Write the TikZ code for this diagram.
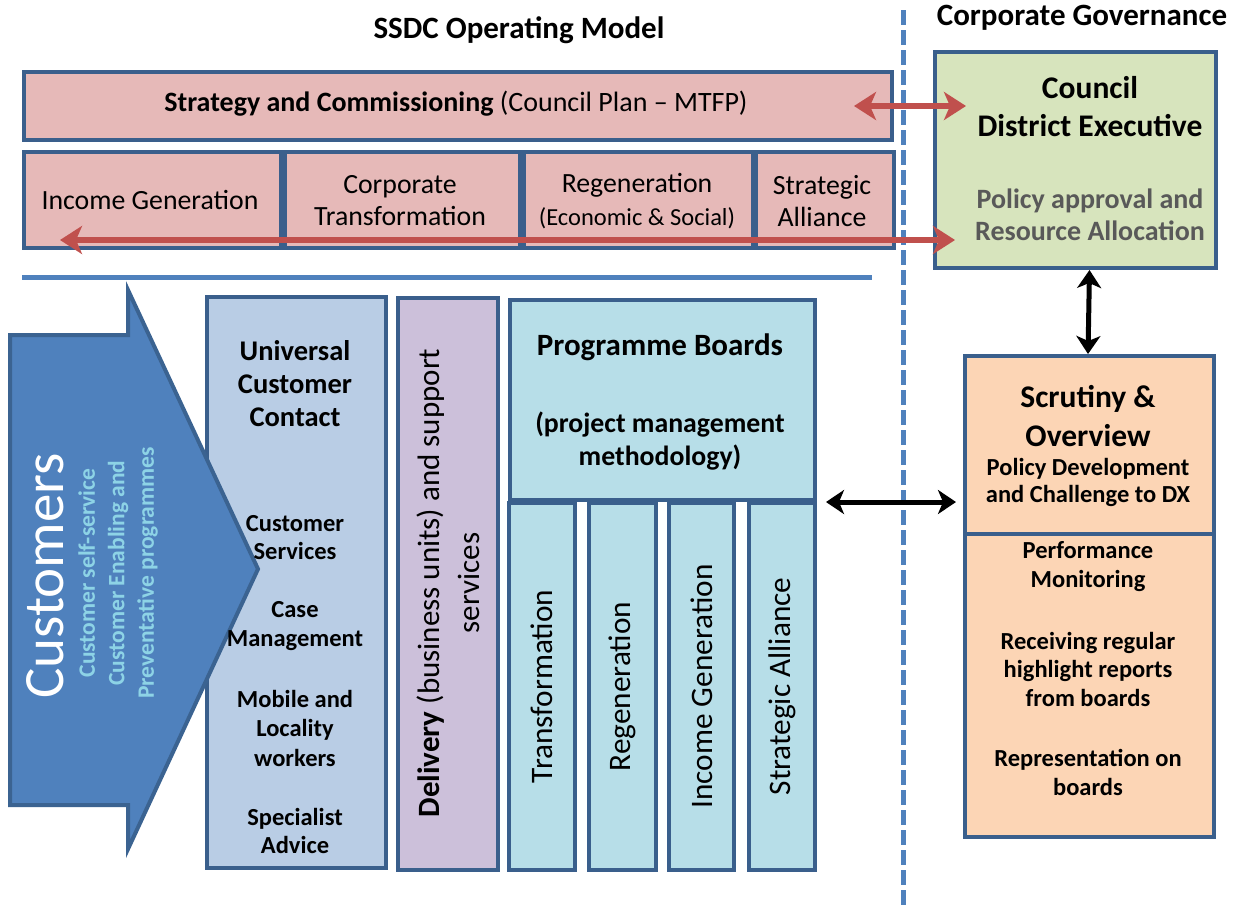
\documentclass[tikz,border=0pt]{standalone}
\usepackage{fontspec}
\setmainfont{Carlito}
\usetikzlibrary{arrows.meta}

\definecolor{frame}{HTML}{3A5F8C}
\definecolor{pinkfill}{HTML}{E6B9B8}
\definecolor{greenfill}{HTML}{D7E4BD}
\definecolor{peachfill}{HTML}{FCD5B5}
\definecolor{bluefill}{HTML}{B9CDE5}
\definecolor{lilacfill}{HTML}{CCC0DA}
\definecolor{aquafill}{HTML}{B7DEE8}
\definecolor{custblue}{HTML}{4F81BD}
\definecolor{custedge}{HTML}{3B6391}
\definecolor{custtext}{HTML}{8DD3E6}
\definecolor{redarrow}{HTML}{C0504D}
\definecolor{rulecolor}{HTML}{4F81BD}
\definecolor{greytext}{HTML}{595959}

\newcommand\fs[2]{\fontsize{#1}{#2}\selectfont}

\tikzset{
  panel/.style={draw=frame, line width=4pt, rectangle, inner sep=0pt, anchor=north west},
  txt/.style={align=center, inner sep=0pt},
  redlink/.style={draw=redarrow, line width=5.5pt,
    {Stealth[length=22pt,width=28pt,inset=6pt]}-{Stealth[length=22pt,width=28pt,inset=6pt]}},
  blacklink/.style={draw=black, line width=5pt,
    {Stealth[length=18pt,width=24pt,inset=5pt]}-{Stealth[length=18pt,width=24pt,inset=5pt]}},
}

\begin{document}
\begin{tikzpicture}[x=1pt, y=-1pt]
\useasboundingbox (0,0) rectangle (1247,906);

% headings
\node[txt, font=\fs{31}{36}\bfseries] (hmodel) at (519,30) {SSDC Operating Model};
\node[txt, font=\fs{31}{36}\bfseries] (hgov) at (1082,18) {Corporate Governance};

% divider between operating model and governance
\draw[rulecolor, line width=5pt, dash pattern=on 15pt off 5pt] (903,10) -- (903,906);

% strategy band
\node[panel, fill=pinkfill, minimum width=868pt, minimum height=68pt] (strat) at (22,70) {};
\node[txt, font=\fs{28}{32}] (strattxt) at (456,104) {\textbf{Strategy and Commissioning} (Council Plan -- MTFP)};

% theme row
\node[panel, fill=pinkfill, minimum width=257pt, minimum height=96pt] (income) at (22,150) {};
\node[panel, fill=pinkfill, minimum width=235pt, minimum height=96pt] (corp) at (283,150) {};
\node[panel, fill=pinkfill, minimum width=229pt, minimum height=96pt] (regen) at (522,150) {};
\node[panel, fill=pinkfill, minimum width=138pt, minimum height=96pt] (alliance) at (754,150) {};
\node[txt, font=\fs{27.8}{32}] (incometxt) at (150,200) {Income Generation};
\node[txt, font=\fs{27.8}{32}] (corptxt) at (400,201) {Corporate\\Transformation};
\node[txt, font=\fs{27.8}{32}] (regentxt) at (637,185) {Regeneration};
\node[txt, font=\fs{24.5}{32}] (regensub) at (637,218) {(Economic \& Social)};
\node[txt, font=\fs{27.8}{32}] (alliancetxt) at (822,201) {Strategic\\Alliance};

% separating rule
\draw[rulecolor, line width=5pt] (22,277) -- (872,277);

% council
\node[panel, fill=greenfill, minimum width=281pt, minimum height=216pt] (council) at (933,50) {};
\node[txt, font=\fs{31.5}{38}\bfseries] (counciltxt) at (1090,107) {Council\\District Executive};
\node[txt, font=\fs{28}{32}\bfseries, text=greytext] (policytxt) at (1090,215) {Policy approval and\\Resource Allocation};

% scrutiny
\node[panel, fill=peachfill, minimum width=249pt, minimum height=178pt] (scrutop) at (963,354) {};
\node[panel, fill=peachfill, minimum width=249pt, minimum height=303pt] (scrubot) at (963,532) {};
\node[txt, font=\fs{31.5}{39}\bfseries] (scrutitle) at (1088,416) {Scrutiny \&\\Overview};
\node[txt, font=\fs{24.5}{27}\bfseries] (scrusub) at (1088,482) {Policy Development\\and Challenge to DX};
\node[txt, font=\fs{24.5}{29}\bfseries] (perf) at (1088,567) {Performance\\Monitoring};
\node[txt, font=\fs{24.5}{28.5}\bfseries] (reports) at (1088,669) {Receiving regular\\highlight reports\\from boards};
\node[txt, font=\fs{24.5}{29}\bfseries] (repr) at (1088,772) {Representation on\\boards};

% universal customer contact (panel first, the customers arrow overlaps it)
\node[panel, fill=bluefill, minimum width=179pt, minimum height=571pt] (ucc) at (205,295) {};

% customers arrow
\filldraw[fill=custblue, draw=custedge, line width=4pt, line join=miter]
  (10,335) -- (128,335) -- (128,290) -- (258,569) -- (128,849) -- (128,805) -- (10,805) -- cycle;
\node[txt, rotate=90, text=white, font=\fs{57}{60}] (custtitle) at (45,576) {Customers};
\node[txt, rotate=90, text=custtext, font=\fs{23.5}{29.5}\bfseries] (custsub) at (118,573)
  {Customer self-service\\Customer Enabling and\\Preventative programmes};

\node[txt, font=\fs{28.5}{33}\bfseries] (ucctitle) at (295,384) {Universal\\Customer\\Contact};
\node[txt, font=\fs{24.5}{28}\bfseries] (uccserv) at (295,538) {Customer\\Services};
\node[txt, font=\fs{24.5}{29}\bfseries] (ucccase) at (295,626) {Case\\Management};
\node[txt, font=\fs{24.5}{29.5}\bfseries] (uccmobile) at (295,728) {Mobile and\\Locality\\workers};
\node[txt, font=\fs{24.5}{28}\bfseries] (uccspec) at (295,831) {Specialist\\Advice};

% delivery
\node[panel, fill=lilacfill, minimum width=100pt, minimum height=572pt] (deliv) at (396,296) {};
\node[txt, rotate=90, font=\fs{31}{40}] (delivtxt) at (448,583) {\textbf{Delivery} (business units) and support\\services};

% programme boards
\node[panel, fill=aquafill, minimum width=305pt, minimum height=200pt] (prog) at (508,298) {};
\node[txt, font=\fs{31}{34}\bfseries] (progtitle) at (660,347) {Programme Boards};
\node[txt, font=\fs{27.8}{33}\bfseries] (progsub) at (660,441) {(project management\\methodology)};

\node[panel, fill=aquafill, minimum width=66pt, minimum height=367pt] (ptrans) at (507,501) {};
\node[panel, fill=aquafill, minimum width=67pt, minimum height=367pt] (pregen) at (587,501) {};
\node[panel, fill=aquafill, minimum width=65pt, minimum height=367pt] (pincome) at (667,501) {};
\node[panel, fill=aquafill, minimum width=66pt, minimum height=367pt] (palliance) at (747,501) {};
\node[txt, rotate=90, font=\fs{31.3}{34}] (ptranstxt) at (ptrans.center) {Transformation};
\node[txt, rotate=90, font=\fs{31.3}{34}] (pregentxt) at (pregen.center) {Regeneration};
\node[txt, rotate=90, font=\fs{31.3}{34}] (pincometxt) at (pincome.center) {Income Generation};
\node[txt, rotate=90, font=\fs{31.3}{34}] (palliancetxt) at (palliance.center) {Strategic Alliance};

% connectors
\coordinate (stratend) at ([xshift=-40pt]strat.east);
\coordinate (councilin) at ([xshift=33pt]council.west |- strat.east);
\draw[redlink] (stratend) -- (councilin);

\coordinate (themesend) at ([xshift=38pt, yshift=10pt]income.south west);
\coordinate (councillow) at ([xshift=22pt]council.west |- themesend);
\draw[redlink] (themesend) -- (councillow);

\draw[blacklink] (scrutop.north -| 1088,0) -- (council.south -| scrutop.north);

\coordinate (progout) at ([xshift=9pt]prog.south east);
\coordinate (scruin) at ([xshift=-7pt]scrutop.west |- progout);
\draw[blacklink] (progout) -- (scruin);
\end{tikzpicture}
\end{document}
